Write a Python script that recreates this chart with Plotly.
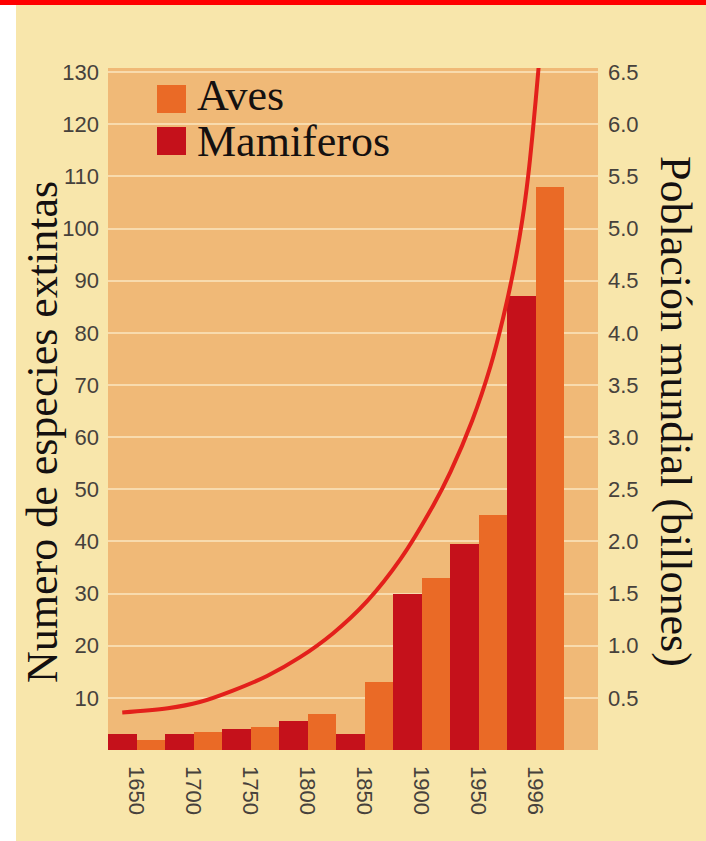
import plotly.graph_objects as go

# Extinct species per period (left axis)
periods = ["1650", "1700", "1750", "1800", "1850", "1900", "1950", "1996"]
mamiferos = [3, 3, 4, 5.5, 3, 30, 39.5, 87]
aves = [2, 3.5, 4.5, 7, 13, 33, 45, 108]

# World population in billions (right axis)
pop_years = [1650, 1690, 1718, 1747, 1777, 1806, 1835, 1865, 1894, 1923,
             1938, 1957, 1973, 1984, 1993, 2001, 2006, 2010, 2015, 2018]
pop_billions = [0.36, 0.40, 0.46, 0.57, 0.71, 0.89, 1.12, 1.43, 1.83, 2.35,
                2.67, 3.16, 3.68, 4.14, 4.59, 5.09, 5.50, 5.92, 6.52, 6.91]

left_ticks = [10, 20, 30, 40, 50, 60, 70, 80, 90, 100, 110, 120, 130]
right_ticks = [0.5, 1.0, 1.5, 2.0, 2.5, 3.0, 3.5, 4.0, 4.5, 5.0, 5.5, 6.0, 6.5]

# Colours
C_MAM = "#c5111b"
C_AVES = "#ea6a26"
C_LINE = "#e3201b"
C_PAGE = "#f8e6ab"
C_PLOT = "#f0b977"
C_GRID = "#f8dbae"
C_TICK = "#46413c"
C_TEXT = "#141010"

# Figure geometry (pixels)
W, H = 706, 841
L, R, T, B = 108, 598, 68, 750


def px_x(p):
    return (p - L) / (R - L)


def px_y(p):
    return (B - p) / (B - T)


Y_MAX = 130.8
X_RANGE = [-0.5, 8.096]
# population curve: 1650 sits at the centre of the first bar, 50 years per group
YEAR_RANGE = [1650 + (X_RANGE[0] + 0.25) * 50, 1650 + (X_RANGE[1] + 0.25) * 50]

fig = go.Figure()
fig.add_trace(go.Bar(x=periods, y=mamiferos, name="Mamiferos",
                     marker=dict(color=C_MAM, line=dict(width=0))))
fig.add_trace(go.Bar(x=periods, y=aves, name="Aves",
                     marker=dict(color=C_AVES, line=dict(width=0))))
fig.add_trace(go.Scatter(x=pop_years, y=pop_billions, xaxis="x2", yaxis="y2",
                         mode="lines", name="Población",
                         line=dict(color=C_LINE, width=4, shape="spline", smoothing=1.0)))

sans = "Liberation Sans, Arial, sans-serif"
serif = "Liberation Serif, Times New Roman, serif"
tick_font = dict(family=sans, size=22, color=C_TICK)

shapes = [
    # page background
    dict(type="rect", xref="paper", yref="paper", layer="below",
         x0=px_x(16), x1=px_x(W + 2), y0=px_y(H + 2), y1=px_y(5),
         fillcolor=C_PAGE, line=dict(width=0)),
    # top red band
    dict(type="rect", xref="paper", yref="paper", layer="above",
         x0=px_x(-2), x1=px_x(W + 2), y0=px_y(5), y1=px_y(-2),
         fillcolor="#ff0000", line=dict(width=0)),
    # plot area
    dict(type="rect", xref="x domain", yref="y domain", layer="below",
         x0=0, x1=1, y0=0, y1=1, fillcolor=C_PLOT, line=dict(width=0)),
]

legend_items = [("Aves", C_AVES, 85, 113, 96), ("Mamiferos", C_MAM, 127, 155, 141)]
annotations = []
for name, col, y0, y1, yt in legend_items:
    shapes.append(dict(type="rect", xref="paper", yref="paper", layer="above",
                       x0=px_x(157), x1=px_x(186), y0=px_y(y1), y1=px_y(y0),
                       fillcolor=col, line=dict(width=0)))
    annotations.append(dict(text=name, xref="paper", yref="paper",
                            x=px_x(195), y=px_y(yt), xanchor="left", yanchor="middle",
                            showarrow=False, font=dict(family=serif, size=44, color=C_TEXT)))

annotations.append(dict(text="Numero de especies extintas", xref="paper", yref="paper",
                        x=px_x(42), y=px_y(432), xanchor="center", yanchor="middle",
                        textangle=-90, showarrow=False,
                        font=dict(family=serif, size=44, color=C_TEXT)))
annotations.append(dict(text="Población mundial (billones)", xref="paper", yref="paper",
                        x=px_x(676), y=px_y(411), xanchor="center", yanchor="middle",
                        textangle=90, showarrow=False,
                        font=dict(family=serif, size=44, color=C_TEXT)))

fig.update_layout(
    width=W, height=H,
    margin=dict(l=L, r=W - R, t=T, b=H - B, pad=0),
    paper_bgcolor="white",
    plot_bgcolor="rgba(0,0,0,0)",
    barmode="group", bargap=0, bargroupgap=0,
    showlegend=False,
    shapes=shapes,
    annotations=annotations,
    xaxis=dict(type="category", range=X_RANGE, showgrid=False, zeroline=False,
               showline=False, ticks="", tickangle=90, ticklabelstandoff=15,
               tickfont=dict(family=sans, size=22, color=C_TICK)),
    yaxis=dict(range=[0, Y_MAX], tickvals=left_ticks, showgrid=True,
               gridcolor=C_GRID, gridwidth=1.5, zeroline=False, showline=False,
               ticks="", ticklabelstandoff=8, tickfont=tick_font),
    xaxis2=dict(overlaying="x", range=YEAR_RANGE, visible=False),
    yaxis2=dict(overlaying="y", side="right", range=[0, Y_MAX / 20],
                tickvals=right_ticks, tickformat=".1f", showgrid=False,
                zeroline=False, showline=False, ticks="", ticklabelstandoff=9,
                tickfont=tick_font),
)

fig.write_html("out.html")
